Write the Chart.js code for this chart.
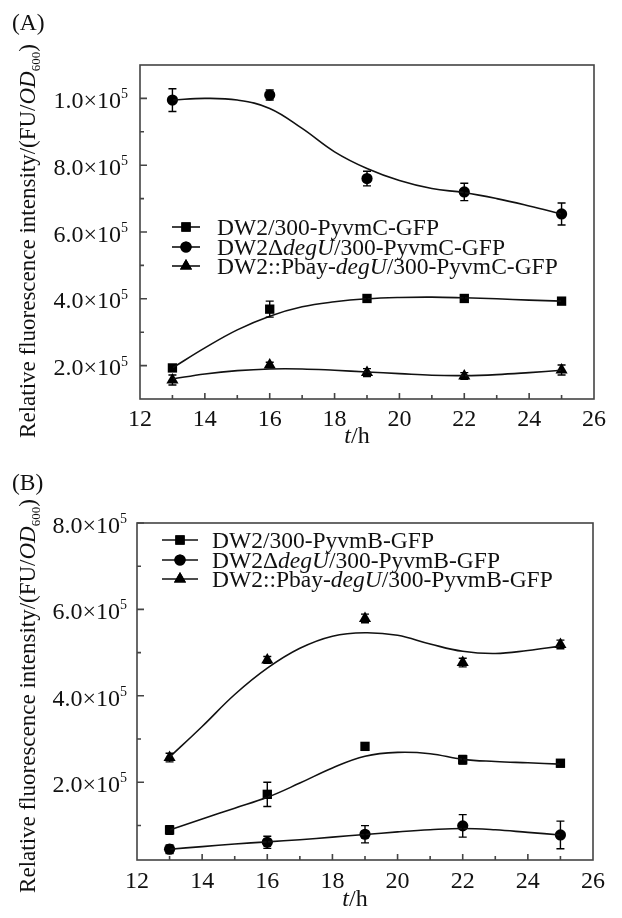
<!DOCTYPE html>
<html><head><meta charset="utf-8">
<script src="https://cdn.jsdelivr.net/npm/chart.js@4"></script>
<style>
html,body{margin:0;padding:0;background:#fff;width:622px;height:918px;overflow:hidden}
canvas{position:absolute;left:0}
#ca{top:0}#cb{top:459px}
</style></head>
<body>
<canvas id="ca" width="622" height="459"></canvas>
<canvas id="cb" width="622" height="459"></canvas>
<script>
// ---------- data ----------
const xPoints = [13, 16, 19, 22, 25];
const xCurve  = [13, 14, 15, 16, 17, 18, 19, 20, 21, 22, 23, 24, 25];
const xTicks  = [12, 14, 16, 18, 20, 22, 24, 26];
const xTickLabels = ["12", "14", "16", "18", "20", "22", "24", "26"];

// Panel A (PyvmC)
const A_sq     = [1.93e5, 3.69e5, 4.01e5, 4.01e5, 3.93e5];
const A_sqErr  = [1.0e4, 2.4e4, 6e3, 6e3, 6e3];
const A_ci     = [9.95e5, 1.01e6, 7.6e5, 7.2e5, 6.54e5];
const A_ciErr  = [3.4e4, 1.5e4, 2.2e4, 2.6e4, 3.3e4];
const A_tr     = [1.57e5, 2.02e5, 1.79e5, 1.69e5, 1.87e5];
const A_trErr  = [1.5e4, 8e3, 1.2e4, 1.0e4, 1.5e4];
const A_sqFit  = [1.93e5, 2.53e5, 3.07e5, 3.48e5, 3.76e5, 3.91e5, 4.0e5, 4.04e5, 4.05e5, 4.03e5, 4.0e5, 3.96e5, 3.93e5];
const A_ciFit  = [9.95e5, 1.0e6, 9.95e5, 9.7e5, 9.1e5, 8.4e5, 7.9e5, 7.54e5, 7.3e5, 7.18e5, 7.0e5, 6.78e5, 6.54e5];
const A_trFit  = [1.6e5, 1.75e5, 1.85e5, 1.9e5, 1.9e5, 1.86e5, 1.81e5, 1.76e5, 1.71e5, 1.70e5, 1.73e5, 1.79e5, 1.86e5];
const A_yTicks = [2e5, 4e5, 6e5, 8e5, 1e6];
const A_yTickLabels = ["2.0", "4.0", "6.0", "8.0", "1.0"];
const A_yMinor = [3e5, 5e5, 7e5, 9e5];

// Panel B (PyvmB)
const B_sq     = [8.96e4, 1.72e5, 2.83e5, 2.52e5, 2.44e5];
const B_sqErr  = [1.0e4, 2.8e4, 5e3, 1.0e4, 8e3];
const B_ci     = [4.5e4, 6.1e4, 7.96e4, 9.9e4, 7.8e4];
const B_ciErr  = [1.0e4, 1.4e4, 2.0e4, 2.6e4, 3.2e4];
const B_tr     = [2.57e5, 4.83e5, 5.79e5, 4.77e5, 5.19e5];
const B_trErr  = [1.0e4, 8e3, 1.0e4, 1.0e4, 1.0e4];
const B_sqFit  = [8.96e4, 1.15e5, 1.4e5, 1.65e5, 1.98e5, 2.33e5, 2.6e5, 2.69e5, 2.66e5, 2.53e5, 2.48e5, 2.45e5, 2.42e5];
const B_ciFit  = [4.5e4, 5.1e4, 5.7e4, 6.2e4, 6.7e4, 7.3e4, 7.9e4, 8.5e4, 9.0e4, 9.3e4, 9.0e4, 8.4e4, 7.8e4];
const B_trFit  = [2.58e5, 3.29e5, 4.03e5, 4.64e5, 5.1e5, 5.38e5, 5.46e5, 5.4e5, 5.2e5, 5.03e5, 4.98e5, 5.05e5, 5.15e5];
const B_yTicks = [2e5, 4e5, 6e5, 8e5];
const B_yTickLabels = ["2.0", "4.0", "6.0", "8.0"];
const B_yMinor = [1e5, 3e5, 5e5, 7e5];

const legendA = [
  [{t:"DW2/300-PyvmC-GFP"}],
  [{t:"DW2\u0394"},{t:"degU",i:true},{t:"/300-PyvmC-GFP"}],
  [{t:"DW2::Pbay-"},{t:"degU",i:true},{t:"/300-PyvmC-GFP"}]
];
const legendB = [
  [{t:"DW2/300-PyvmB-GFP"}],
  [{t:"DW2\u0394"},{t:"degU",i:true},{t:"/300-PyvmB-GFP"}],
  [{t:"DW2::Pbay-"},{t:"degU",i:true},{t:"/300-PyvmB-GFP"}]
];
const yTitle = [{t:"Relative fluorescence intensity/(FU/"},{t:"OD",i:true},{t:"600",sub:true},{t:")"}];
const xTitle = [{t:"t",i:true},{t:"/h"}];

// ---------- helpers ----------
const FF = '"Liberation Serif","Times New Roman",serif';
function segFont(s, fs){ const sz = (s.sub||s.sup)?Math.round(fs*0.58):fs; return (s.i?'italic ':'')+sz+'px '+FF; }
function richWidth(ctx, segs, fs){ let w=0; segs.forEach(s=>{ctx.font=segFont(s,fs); w+=ctx.measureText(s.t).width;}); return w; }
function drawRich(ctx, segs, x, y, fs){ // left x, middle y
  ctx.textBaseline='alphabetic'; ctx.textAlign='left';
  let cx=x; const base=y+fs*0.32;
  segs.forEach(s=>{ ctx.font=segFont(s,fs); let dy=0; if(s.sub) dy=fs*0.22; if(s.sup) dy=-fs*0.4;
    ctx.fillText(s.t, cx, base+dy); cx+=ctx.measureText(s.t).width; });
}
const STYLES = [
  {pointStyle:'rect', radius:6.6},
  {pointStyle:'circle', radius:5.6},
  {pointStyle:'triangle', radius:7}
];

function makePanel(id, cfg){
  const ds = [];
  cfg.fits.forEach(f=>ds.push({data:xCurve.map((x,i)=>({x:x,y:f[i]})), showLine:true, pointRadius:0,
    borderColor:'#111', borderWidth:1.6, tension:0.4, fill:false}));
  cfg.pts.forEach((p,k)=>ds.push({data:xPoints.map((x,i)=>({x:x,y:p[i]})), showLine:false,
    pointStyle:STYLES[k].pointStyle, pointRadius:STYLES[k].radius, pointHoverRadius:STYLES[k].radius,
    backgroundColor:'#000', borderColor:'#000', borderWidth:0}));
  const deco = {
    id:'deco',
    afterDatasetsDraw(chart){
      const ctx=chart.ctx, xs=chart.scales.x, ys=chart.scales.y, a=chart.chartArea;
      ctx.save();
      // error bars
      ctx.strokeStyle='#000'; ctx.lineWidth=1.4;
      cfg.pts.forEach((p,k)=>{ p.forEach((v,i)=>{ const e=cfg.errs[k][i];
        const px=xs.getPixelForValue(xPoints[i]), y1=ys.getPixelForValue(v-e), y2=ys.getPixelForValue(v+e);
        ctx.beginPath(); ctx.moveTo(px,y1); ctx.lineTo(px,y2);
        ctx.moveTo(px-4,y1); ctx.lineTo(px+4,y1); ctx.moveTo(px-4,y2); ctx.lineTo(px+4,y2); ctx.stroke(); }); });
      // frame
      ctx.strokeStyle='#444'; ctx.lineWidth=1.6;
      ctx.strokeRect(a.left, a.top, a.right-a.left, a.bottom-a.top);
      // ticks
      ctx.beginPath();
      for(let v=13; v<=25; v++){ const px=xs.getPixelForValue(v); const L=(v%2===0)?6:4;
        ctx.moveTo(px,a.bottom); ctx.lineTo(px,a.bottom-L); }
      cfg.yTicks.forEach(v=>{ const py=ys.getPixelForValue(v); ctx.moveTo(a.left,py); ctx.lineTo(a.left+7,py); });
      cfg.yMinor.forEach(v=>{ const py=ys.getPixelForValue(v); ctx.moveTo(a.left,py); ctx.lineTo(a.left+4,py); });
      ctx.stroke();
      ctx.fillStyle='#111';
      // x tick labels
      ctx.font='24px '+FF; ctx.textAlign='center'; ctx.textBaseline='middle';
      xTicks.forEach((v,i)=>ctx.fillText(xTickLabels[i], xs.getPixelForValue(v), a.bottom+cfg.xLabOff));
      // y tick labels  "d.d×10^5"
      cfg.yTicks.forEach((v,i)=>{ const py=ys.getPixelForValue(v)+2;
        const segs=[{t:cfg.yLabels[i]+"\u00d710"},{t:"5",sup:true}];
        const w=richWidth(ctx,segs,24); drawRich(ctx,segs,cfg.yLabRight-w,py,24); });
      // axis titles
      const wx=richWidth(ctx,xTitle,24); drawRich(ctx,xTitle,cfg.xTitle[0]-wx/2,cfg.xTitle[1],24);
      ctx.save(); ctx.translate(cfg.yTitle[0],cfg.yTitle[1]); ctx.rotate(-Math.PI/2);
      const wy=richWidth(ctx,yTitle,23); drawRich(ctx,yTitle,-wy/2,0,23); ctx.restore();
      // panel label
      drawRich(ctx,[{t:cfg.label}],12,cfg.labelY,23.5);
      // legend
      cfg.legend.forEach((segs,k)=>{ const y=cfg.legY[k];
        ctx.strokeStyle='#111'; ctx.lineWidth=1.6; ctx.beginPath(); ctx.moveTo(cfg.legX[0],y); ctx.lineTo(cfg.legX[1],y); ctx.stroke();
        ctx.fillStyle='#000';
        Chart.helpers.drawPoint(ctx,{pointStyle:STYLES[k].pointStyle, radius:STYLES[k].radius, rotation:0, borderWidth:0},(cfg.legX[0]+cfg.legX[1])/2,y);
        ctx.fill();
        ctx.fillStyle='#111'; drawRich(ctx,segs,cfg.legX[2],y,23.5); });
      ctx.restore();
    }
  };
  return new Chart(document.getElementById(id), {
    type:'scatter',
    data:{datasets:ds},
    options:{
      responsive:false, animation:false, events:[],
      layout:{padding:cfg.pad},
      plugins:{legend:{display:false}, tooltip:{enabled:false}},
      scales:{
        x:{type:'linear', min:12, max:26, display:false},
        y:{type:'linear', min:cfg.yMin, max:cfg.yMax, display:false}
      }
    },
    plugins:[deco]
  });
}

makePanel('ca', {
  fits:[A_sqFit, A_ciFit, A_trFit], pts:[A_sq, A_ci, A_tr], errs:[A_sqErr, A_ciErr, A_trErr],
  yMin:1e5, yMax:1.1e6, yTicks:A_yTicks, yLabels:A_yTickLabels, yMinor:A_yMinor,
  pad:{left:140, top:65, right:28, bottom:60},
  xLabOff:21, yLabRight:128, xTitle:[357,435], yTitle:[28,241], label:"(A)", labelY:22,
  legend:legendA, legY:[227,247,266], legX:[172,200,217]
});
makePanel('cb', {
  fits:[B_sqFit, B_ciFit, B_trFit], pts:[B_sq, B_ci, B_tr], errs:[B_sqErr, B_ciErr, B_trErr],
  yMin:2e4, yMax:8e5, yTicks:B_yTicks, yLabels:B_yTickLabels, yMinor:B_yMinor,
  pad:{left:137, top:64, right:29, bottom:58},
  xLabOff:22, yLabRight:127, xTitle:[355,439], yTitle:[28,237], label:"(B)", labelY:23,
  legend:legendB, legY:[81,101,120], legX:[162,198,212]
});
</script>
</body></html>
